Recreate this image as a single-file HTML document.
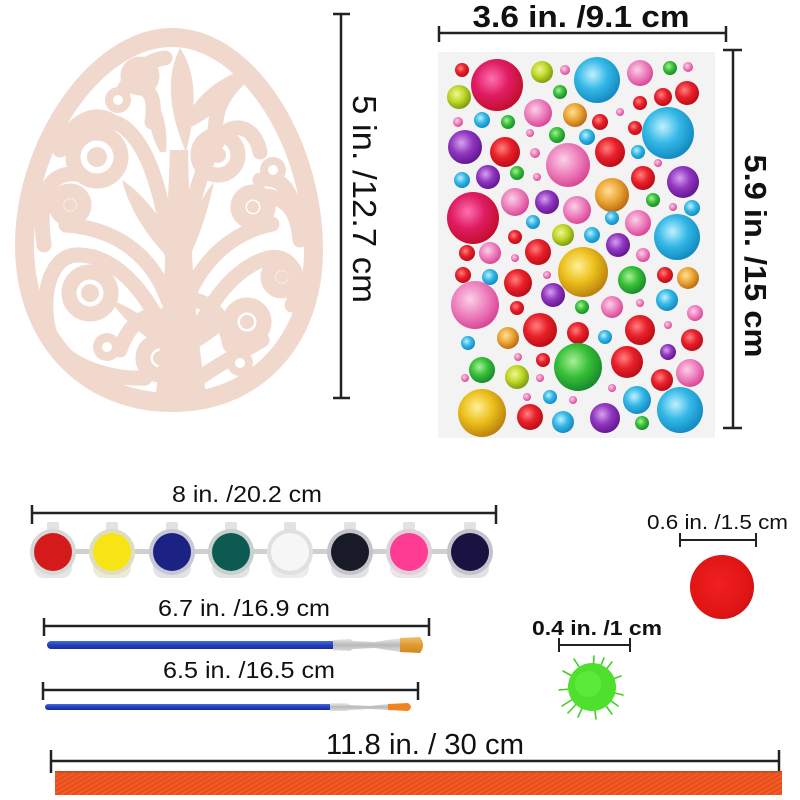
<!DOCTYPE html>
<html>
<head>
<meta charset="utf-8">
<style>
html,body{margin:0;padding:0;background:#fff;}
svg{display:block;}
text{font-family:"Liberation Sans",Arial,sans-serif;fill:#111;}
</style>
</head>
<body>
<svg width="800" height="800" viewBox="0 0 800 800" xmlns="http://www.w3.org/2000/svg">
<defs>
  <radialGradient id="gr" cx="40%" cy="38%" r="65%"><stop offset="0" stop-color="#ff8080"/><stop offset="0.5" stop-color="#e8202a"/><stop offset="1" stop-color="#b80c16"/></radialGradient>
  <radialGradient id="gm" cx="40%" cy="38%" r="65%"><stop offset="0" stop-color="#ff70b0"/><stop offset="0.5" stop-color="#e01c64"/><stop offset="1" stop-color="#c00e2a"/></radialGradient>
  <radialGradient id="gc" cx="40%" cy="38%" r="65%"><stop offset="0" stop-color="#c0f0ff"/><stop offset="0.5" stop-color="#34b8e6"/><stop offset="1" stop-color="#1088c0"/></radialGradient>
  <radialGradient id="gp" cx="40%" cy="38%" r="65%"><stop offset="0" stop-color="#fbd0e8"/><stop offset="0.5" stop-color="#ee86c0"/><stop offset="1" stop-color="#d84294"/></radialGradient>
  <radialGradient id="gg" cx="40%" cy="38%" r="65%"><stop offset="0" stop-color="#a8f098"/><stop offset="0.5" stop-color="#38c038"/><stop offset="1" stop-color="#16882a"/></radialGradient>
  <radialGradient id="gy" cx="40%" cy="38%" r="65%"><stop offset="0" stop-color="#f0f498"/><stop offset="0.5" stop-color="#c0d828"/><stop offset="1" stop-color="#789810"/></radialGradient>
  <radialGradient id="go" cx="40%" cy="38%" r="65%"><stop offset="0" stop-color="#ffe098"/><stop offset="0.5" stop-color="#eca838"/><stop offset="1" stop-color="#b86810"/></radialGradient>
  <radialGradient id="gu" cx="40%" cy="38%" r="65%"><stop offset="0" stop-color="#d8a0ee"/><stop offset="0.5" stop-color="#9038c0"/><stop offset="1" stop-color="#62148e"/></radialGradient>
  <radialGradient id="gw" cx="40%" cy="38%" r="65%"><stop offset="0" stop-color="#fff098"/><stop offset="0.5" stop-color="#ecc01c"/><stop offset="1" stop-color="#b8800e"/></radialGradient>
  <radialGradient id="pom" cx="45%" cy="45%" r="60%"><stop offset="0" stop-color="#f02020"/><stop offset="0.8" stop-color="#e01414"/><stop offset="1" stop-color="#c81010"/></radialGradient>
  <pattern id="rib" width="4" height="4" patternUnits="userSpaceOnUse" patternTransform="rotate(60)">
    <rect width="4" height="4" fill="#f25a26"/><rect width="1.3" height="4" fill="#e04a18"/>
  </pattern>
  <linearGradient id="ferr" x1="0" y1="0" x2="0" y2="1"><stop offset="0" stop-color="#eeeeee"/><stop offset="0.5" stop-color="#b8b8b8"/><stop offset="1" stop-color="#e0e0e0"/></linearGradient>
  <linearGradient id="hand" x1="0" y1="0" x2="0" y2="1"><stop offset="0" stop-color="#4a6ae0"/><stop offset="0.5" stop-color="#2440c0"/><stop offset="1" stop-color="#1a2e98"/></linearGradient>
  <linearGradient id="bris" x1="0" y1="0" x2="0" y2="1"><stop offset="0" stop-color="#f0c070"/><stop offset="0.5" stop-color="#e09a30"/><stop offset="1" stop-color="#d08a20"/></linearGradient>
</defs>

<!-- ================= EGG ================= -->
<path d="M172,28 C255,28 323,140 323,250 C323,345 262,412 172,412 C82,412 15,345 15,245 C15,140 90,28 172,28 Z" fill="#f0d8cc"/>
<path d="M172,47 C241,47 304,148 304,250 C304,334 251,393 172,393 C93,393 34,334 34,245 C34,148 101,47 172,47 Z" fill="#ffffff"/>
<g fill="none" stroke="#f0d8cc" stroke-width="15" stroke-linecap="round">
  <circle cx="97" cy="157" r="24"/>
  <circle cx="70" cy="205" r="14"/>
  <circle cx="90" cy="293" r="21"/>
  <circle cx="160" cy="358" r="17"/>
  <circle cx="140" cy="76" r="12"/>
  <circle cx="218" cy="155" r="20"/>
  <circle cx="253" cy="207" r="15"/>
  <circle cx="282" cy="277" r="14"/>
  <circle cx="247" cy="322" r="17"/>
  <path d="M172,255 C162,200 152,150 125,128 C108,115 86,120 74,140"/>
  <path d="M168,300 C150,250 110,228 66,225"/>
  <path d="M178,388 C168,310 120,252 75,255 C48,258 40,300 50,335 C62,365 110,380 145,378"/>
  <path d="M182,255 C192,205 200,165 222,135 C238,120 256,130 260,152"/>
  <path d="M186,300 C205,255 235,232 272,224"/>
  <path d="M180,388 C192,320 230,268 268,258 C298,252 302,290 292,305"/>
  <path d="M180,392 C205,372 235,356 262,340"/>
  <path d="M152,122 C156,100 150,88 140,88"/>
  <path d="M44,245 C38,200 46,172 76,174"/>
  <path d="M300,240 C298,215 290,200 268,196"/>
  <path d="M215,135 C215,110 222,95 240,78"/>
  <path d="M120,100 C130,70 150,60 165,58"/>
  <path d="M110,120 C90,110 70,125 60,150"/>
  <path d="M120,350 C130,320 150,310 168,318"/>
  <path d="M230,345 C225,320 215,305 195,300"/>
  <path d="M260,180 C280,175 292,190 295,215"/>
</g>
<g fill="#f0d8cc">
  <circle cx="97" cy="157" r="10"/>
  <circle cx="70" cy="205" r="6"/>
  <circle cx="90" cy="293" r="9"/>
  <circle cx="160" cy="358" r="7"/>
  <circle cx="140" cy="76" r="5"/>
  <circle cx="218" cy="155" r="8"/>
  <circle cx="253" cy="207" r="6"/>
  <circle cx="282" cy="277" r="6"/>
  <circle cx="247" cy="322" r="7"/>
  <circle cx="107" cy="347" r="14"/>
  <circle cx="273" cy="170" r="13"/>
  <circle cx="240" cy="363" r="13"/>
  <circle cx="118" cy="100" r="13"/>
  <path d="M156,394 C162,330 166,250 170,150 L188,150 C190,250 196,330 206,394 Z"/>
  <path d="M180,48 C196,72 198,105 186,152 C168,110 166,75 180,48 Z"/>
  <path d="M186,118 C200,90 224,76 248,68 C240,96 216,114 186,130 Z"/>
  <path d="M172,262 C150,240 130,212 122,180 C146,196 164,222 174,246 Z"/>
  <path d="M186,264 C200,236 208,210 214,182 C196,204 188,230 182,252 Z"/>
  <path d="M160,152 C148,130 146,110 152,95 C164,110 168,130 166,152 Z"/>
  <path d="M170,340 C150,320 128,305 110,300 C125,322 145,338 166,350 Z"/>
  <path d="M190,340 C210,318 230,306 250,300 C236,322 214,338 194,350 Z"/>
</g>
<g fill="#fff">
  <circle cx="107" cy="347" r="5"/>
  <circle cx="273" cy="170" r="5"/>
  <circle cx="240" cy="363" r="5"/>
  <circle cx="118" cy="100" r="5"/>
</g>

<!-- egg dimension -->
<g stroke="#222" stroke-width="2.5" fill="none">
  <line x1="341" y1="14" x2="341" y2="398"/>
  <line x1="333" y1="14" x2="350" y2="14"/>
  <line x1="333" y1="398" x2="350" y2="398"/>
</g>
<text transform="translate(353,199) rotate(90)" text-anchor="middle" font-size="33" textLength="208" lengthAdjust="spacingAndGlyphs">5 in. /12.7 cm</text>

<!-- ================= GEM SHEET ================= -->
<rect x="438" y="52" width="277" height="386" fill="#f3f3f3"/>
<g>
<circle cx="462" cy="70" r="7" fill="url(#gr)"/>
<circle cx="497" cy="85" r="26" fill="url(#gm)"/>
<circle cx="542" cy="72" r="11" fill="url(#gy)"/>
<circle cx="565" cy="70" r="5" fill="url(#gp)"/>
<circle cx="597" cy="80" r="23" fill="url(#gc)"/>
<circle cx="640" cy="73" r="13" fill="url(#gp)"/>
<circle cx="670" cy="68" r="7" fill="url(#gg)"/>
<circle cx="688" cy="67" r="5" fill="url(#gp)"/>
<circle cx="459" cy="97" r="12" fill="url(#gy)"/>
<circle cx="560" cy="92" r="7" fill="url(#gg)"/>
<circle cx="640" cy="103" r="7" fill="url(#gr)"/>
<circle cx="663" cy="97" r="9" fill="url(#gr)"/>
<circle cx="687" cy="93" r="12" fill="url(#gr)"/>
<circle cx="538" cy="113" r="14" fill="url(#gp)"/>
<circle cx="575" cy="115" r="12" fill="url(#go)"/>
<circle cx="600" cy="122" r="8" fill="url(#gr)"/>
<circle cx="620" cy="112" r="4" fill="url(#gp)"/>
<circle cx="458" cy="122" r="5" fill="url(#gp)"/>
<circle cx="482" cy="120" r="8" fill="url(#gc)"/>
<circle cx="508" cy="122" r="7" fill="url(#gg)"/>
<circle cx="635" cy="128" r="7" fill="url(#gr)"/>
<circle cx="668" cy="133" r="26" fill="url(#gc)"/>
<circle cx="465" cy="147" r="17" fill="url(#gu)"/>
<circle cx="505" cy="152" r="15" fill="url(#gr)"/>
<circle cx="530" cy="133" r="4" fill="url(#gp)"/>
<circle cx="557" cy="135" r="8" fill="url(#gg)"/>
<circle cx="587" cy="137" r="8" fill="url(#gc)"/>
<circle cx="610" cy="152" r="15" fill="url(#gr)"/>
<circle cx="638" cy="152" r="7" fill="url(#gc)"/>
<circle cx="568" cy="165" r="22" fill="url(#gp)"/>
<circle cx="535" cy="153" r="5" fill="url(#gp)"/>
<circle cx="658" cy="163" r="4" fill="url(#gp)"/>
<circle cx="462" cy="180" r="8" fill="url(#gc)"/>
<circle cx="488" cy="177" r="12" fill="url(#gu)"/>
<circle cx="517" cy="173" r="7" fill="url(#gg)"/>
<circle cx="537" cy="177" r="4" fill="url(#gp)"/>
<circle cx="643" cy="178" r="12" fill="url(#gr)"/>
<circle cx="683" cy="182" r="16" fill="url(#gu)"/>
<circle cx="612" cy="195" r="17" fill="url(#go)"/>
<circle cx="515" cy="202" r="14" fill="url(#gp)"/>
<circle cx="547" cy="202" r="12" fill="url(#gu)"/>
<circle cx="577" cy="210" r="14" fill="url(#gp)"/>
<circle cx="653" cy="200" r="7" fill="url(#gg)"/>
<circle cx="673" cy="207" r="4" fill="url(#gp)"/>
<circle cx="692" cy="208" r="8" fill="url(#gc)"/>
<circle cx="473" cy="218" r="26" fill="url(#gm)"/>
<circle cx="533" cy="222" r="7" fill="url(#gc)"/>
<circle cx="612" cy="218" r="7" fill="url(#gc)"/>
<circle cx="638" cy="223" r="13" fill="url(#gp)"/>
<circle cx="677" cy="237" r="23" fill="url(#gc)"/>
<circle cx="515" cy="237" r="7" fill="url(#gr)"/>
<circle cx="563" cy="235" r="11" fill="url(#gy)"/>
<circle cx="592" cy="235" r="8" fill="url(#gc)"/>
<circle cx="618" cy="245" r="12" fill="url(#gu)"/>
<circle cx="467" cy="253" r="8" fill="url(#gr)"/>
<circle cx="490" cy="253" r="11" fill="url(#gp)"/>
<circle cx="538" cy="252" r="13" fill="url(#gr)"/>
<circle cx="515" cy="258" r="4" fill="url(#gp)"/>
<circle cx="583" cy="272" r="25" fill="url(#gw)"/>
<circle cx="643" cy="255" r="7" fill="url(#gp)"/>
<circle cx="463" cy="275" r="8" fill="url(#gr)"/>
<circle cx="490" cy="277" r="8" fill="url(#gc)"/>
<circle cx="518" cy="283" r="14" fill="url(#gr)"/>
<circle cx="547" cy="275" r="4" fill="url(#gp)"/>
<circle cx="632" cy="280" r="14" fill="url(#gg)"/>
<circle cx="665" cy="275" r="8" fill="url(#gr)"/>
<circle cx="688" cy="278" r="11" fill="url(#go)"/>
<circle cx="475" cy="305" r="24" fill="url(#gp)"/>
<circle cx="553" cy="295" r="12" fill="url(#gu)"/>
<circle cx="667" cy="300" r="11" fill="url(#gc)"/>
<circle cx="517" cy="308" r="7" fill="url(#gr)"/>
<circle cx="582" cy="307" r="7" fill="url(#gg)"/>
<circle cx="612" cy="307" r="11" fill="url(#gp)"/>
<circle cx="640" cy="303" r="4" fill="url(#gp)"/>
<circle cx="695" cy="313" r="8" fill="url(#gp)"/>
<circle cx="540" cy="330" r="17" fill="url(#gr)"/>
<circle cx="578" cy="333" r="11" fill="url(#gr)"/>
<circle cx="640" cy="330" r="15" fill="url(#gr)"/>
<circle cx="508" cy="338" r="11" fill="url(#go)"/>
<circle cx="605" cy="337" r="7" fill="url(#gc)"/>
<circle cx="668" cy="325" r="4" fill="url(#gp)"/>
<circle cx="692" cy="340" r="11" fill="url(#gr)"/>
<circle cx="468" cy="343" r="7" fill="url(#gc)"/>
<circle cx="518" cy="357" r="4" fill="url(#gp)"/>
<circle cx="543" cy="360" r="7" fill="url(#gr)"/>
<circle cx="578" cy="367" r="24" fill="url(#gg)"/>
<circle cx="627" cy="362" r="16" fill="url(#gr)"/>
<circle cx="668" cy="352" r="8" fill="url(#gu)"/>
<circle cx="690" cy="373" r="14" fill="url(#gp)"/>
<circle cx="482" cy="370" r="13" fill="url(#gg)"/>
<circle cx="517" cy="377" r="12" fill="url(#gy)"/>
<circle cx="465" cy="378" r="4" fill="url(#gp)"/>
<circle cx="540" cy="378" r="4" fill="url(#gp)"/>
<circle cx="662" cy="380" r="11" fill="url(#gr)"/>
<circle cx="612" cy="388" r="4" fill="url(#gp)"/>
<circle cx="482" cy="413" r="24" fill="url(#gw)"/>
<circle cx="530" cy="417" r="13" fill="url(#gr)"/>
<circle cx="527" cy="397" r="4" fill="url(#gp)"/>
<circle cx="550" cy="397" r="7" fill="url(#gc)"/>
<circle cx="573" cy="400" r="4" fill="url(#gp)"/>
<circle cx="563" cy="422" r="11" fill="url(#gc)"/>
<circle cx="605" cy="418" r="15" fill="url(#gu)"/>
<circle cx="637" cy="400" r="14" fill="url(#gc)"/>
<circle cx="642" cy="423" r="7" fill="url(#gg)"/>
<circle cx="680" cy="410" r="23" fill="url(#gc)"/>
</g>

<!-- sheet dimensions -->
<g stroke="#222" stroke-width="2.5" fill="none">
  <line x1="439" y1="33" x2="726" y2="33"/>
  <line x1="439" y1="26" x2="439" y2="42"/>
  <line x1="726" y1="26" x2="726" y2="42"/>
  <line x1="733" y1="50" x2="733" y2="428"/>
  <line x1="723" y1="50" x2="742" y2="50"/>
  <line x1="723" y1="428" x2="742" y2="428"/>
</g>
<text x="581" y="27" text-anchor="middle" font-size="31" font-weight="bold" textLength="217" lengthAdjust="spacingAndGlyphs" fill="#222">3.6 in. /9.1 cm</text>
<text transform="translate(745,256) rotate(90)" text-anchor="middle" font-size="31" font-weight="bold" textLength="203" lengthAdjust="spacingAndGlyphs" fill="#222">5.9 in. /15 cm</text>

<!-- ================= PAINT POTS ================= -->
<g stroke="#222" stroke-width="2.5" fill="none">
  <line x1="32" y1="513" x2="496" y2="513"/>
  <line x1="32" y1="505" x2="32" y2="524"/>
  <line x1="496" y1="505" x2="496" y2="524"/>
</g>
<text x="247" y="502" text-anchor="middle" font-size="23" textLength="150" lengthAdjust="spacingAndGlyphs">8 in. /20.2 cm</text>
<rect x="53" y="549" width="417" height="5" fill="#cfcfcf"/>
<g>
  <g transform="translate(53,552)"><rect x="-19" y="0" width="38" height="26" rx="10" fill="#e6e6e6"/><rect x="-6" y="-30" width="12" height="10" rx="2" fill="#e2e2e2"/><circle r="23" fill="#d8d8d8"/><circle r="19" fill="#d41a1a"/></g>
  <g transform="translate(112,552)"><rect x="-19" y="0" width="38" height="26" rx="10" fill="#ecebd8"/><rect x="-6" y="-30" width="12" height="10" rx="2" fill="#e2e2e2"/><circle r="23" fill="#e0dcc0"/><circle r="19" fill="#f8e414"/></g>
  <g transform="translate(172,552)"><rect x="-19" y="0" width="38" height="26" rx="10" fill="#e2e2e6"/><rect x="-6" y="-30" width="12" height="10" rx="2" fill="#e2e2e2"/><circle r="23" fill="#c8c8d4"/><circle r="19" fill="#1c2284"/></g>
  <g transform="translate(231,552)"><rect x="-19" y="0" width="38" height="26" rx="10" fill="#e2e4e4"/><rect x="-6" y="-30" width="12" height="10" rx="2" fill="#e2e2e2"/><circle r="23" fill="#c8d0ce"/><circle r="19" fill="#0c5a52"/></g>
  <g transform="translate(290,552)"><rect x="-19" y="0" width="38" height="26" rx="10" fill="#ececec"/><rect x="-6" y="-30" width="12" height="10" rx="2" fill="#e2e2e2"/><circle r="23" fill="#e0e0e0"/><circle r="19" fill="#f6f6f6"/></g>
  <g transform="translate(350,552)"><rect x="-19" y="0" width="38" height="26" rx="10" fill="#e2e2e4"/><rect x="-6" y="-30" width="12" height="10" rx="2" fill="#e2e2e2"/><circle r="23" fill="#c4c4ca"/><circle r="19" fill="#181a28"/></g>
  <g transform="translate(409,552)"><rect x="-19" y="0" width="38" height="26" rx="10" fill="#ece4e8"/><rect x="-6" y="-30" width="12" height="10" rx="2" fill="#e2e2e2"/><circle r="23" fill="#e0d0d8"/><circle r="19" fill="#ff3c94"/></g>
  <g transform="translate(470,552)"><rect x="-19" y="0" width="38" height="26" rx="10" fill="#e2e2e4"/><rect x="-6" y="-30" width="12" height="10" rx="2" fill="#e2e2e2"/><circle r="23" fill="#c4c4cc"/><circle r="19" fill="#1a1240"/></g>
</g>

<!-- ================= BRUSHES ================= -->
<g stroke="#222" stroke-width="2.5" fill="none">
  <line x1="44" y1="626" x2="429" y2="626"/>
  <line x1="44" y1="618" x2="44" y2="636"/>
  <line x1="429" y1="618" x2="429" y2="636"/>
  <line x1="43" y1="690" x2="418" y2="690"/>
  <line x1="43" y1="682" x2="43" y2="700"/>
  <line x1="418" y1="682" x2="418" y2="700"/>
</g>
<text x="244" y="616" text-anchor="middle" font-size="23" textLength="172" lengthAdjust="spacingAndGlyphs">6.7 in. /16.9 cm</text>
<text x="249" y="678" text-anchor="middle" font-size="23" textLength="172" lengthAdjust="spacingAndGlyphs">6.5 in. /16.5 cm</text>

<rect x="47" y="641" width="290" height="8" rx="4" fill="url(#hand)"/>
<path d="M333,640 L350,639 L353,641 L375,642 L400,638 L400,652 L375,648 L353,649 L350,651 L333,650 Z" fill="url(#ferr)"/>
<path d="M400,638 L420,637 Q426,645 420,653 L400,652 Z" fill="url(#bris)"/>

<rect x="45" y="704" width="288" height="6" rx="3" fill="url(#hand)"/>
<path d="M330,703 L346,703 L350,705 L370,706 L388,704 L388,710 L370,709 L350,710 L346,711 L330,711 Z" fill="url(#ferr)"/>
<path d="M388,704 L408,703 Q414,707 408,711 L388,710 Z" fill="#f08420"/>

<!-- ================= POM POMS ================= -->
<g stroke="#222" stroke-width="2" fill="none">
  <line x1="680" y1="540" x2="756" y2="540"/>
  <line x1="680" y1="533" x2="680" y2="547"/>
  <line x1="756" y1="533" x2="756" y2="547"/>
  <line x1="559" y1="645" x2="630" y2="645"/>
  <line x1="559" y1="638" x2="559" y2="652"/>
  <line x1="630" y1="638" x2="630" y2="652"/>
</g>
<text x="647" y="529" font-size="20" textLength="141" lengthAdjust="spacingAndGlyphs">0.6 in. /1.5 cm</text>
<text x="532" y="635" font-size="20" font-weight="bold" textLength="130" lengthAdjust="spacingAndGlyphs">0.4 in. /1 cm</text>
<circle cx="722" cy="587" r="32" fill="url(#pom)"/>
<g stroke="#40d020" stroke-width="1.6" stroke-linecap="round">
  <line x1="592" y1="687" x2="594" y2="656"/>
  <line x1="592" y1="687" x2="612" y2="662"/>
  <line x1="592" y1="687" x2="621" y2="676"/>
  <line x1="592" y1="687" x2="623" y2="695"/>
  <line x1="592" y1="687" x2="612" y2="714"/>
  <line x1="592" y1="687" x2="596" y2="719"/>
  <line x1="592" y1="687" x2="578" y2="717"/>
  <line x1="592" y1="687" x2="562" y2="706"/>
  <line x1="592" y1="687" x2="559" y2="690"/>
  <line x1="592" y1="687" x2="563" y2="671"/>
  <line x1="592" y1="687" x2="574" y2="659"/>
  <line x1="592" y1="687" x2="604" y2="658"/>
  <line x1="592" y1="687" x2="618" y2="706"/>
  <line x1="592" y1="687" x2="568" y2="713"/>
</g>
<circle cx="592" cy="687" r="24" fill="#4ee02c"/>
<circle cx="588" cy="684" r="13" fill="#5cea3a"/>

<!-- ================= RIBBON ================= -->
<g stroke="#222" stroke-width="2.5" fill="none">
  <line x1="51" y1="761" x2="779" y2="761"/>
  <line x1="51" y1="750" x2="51" y2="773"/>
  <line x1="779" y1="750" x2="779" y2="773"/>
</g>
<text x="425" y="754" text-anchor="middle" font-size="29" textLength="198" lengthAdjust="spacingAndGlyphs">11.8 in. / 30 cm</text>
<rect x="55" y="771" width="727" height="24" fill="url(#rib)"/>
<rect x="55" y="771" width="727" height="1.5" fill="#c84818"/>
</svg>
</body>
</html>
